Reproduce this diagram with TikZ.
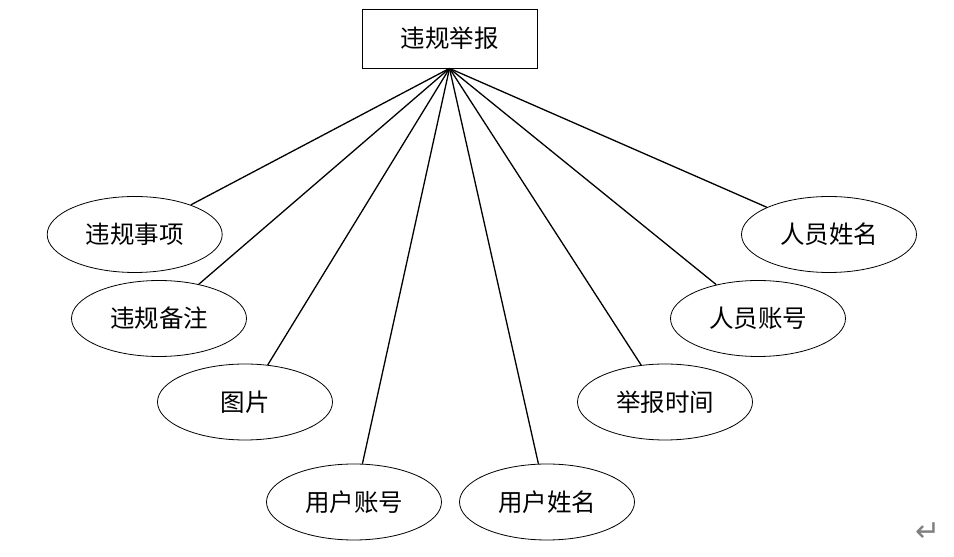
\documentclass[tikz,border=0pt]{standalone}
\usepackage{fontspec}
\newfontfamily\cjk{Noto Sans CJK SC}
\newfontfamily\symfont{DejaVu Sans}
\usetikzlibrary{shapes.geometric}
\tikzset{entity/.style={rectangle, draw, line width=0.8pt,
   minimum width=175pt, minimum height=59pt, inner sep=0pt,
   font=\cjk\fontsize{24.5}{24.5}\selectfont}}
\tikzset{attr/.style={ellipse, draw, line width=0.8pt,
   minimum width=175pt, minimum height=76pt, inner sep=0pt,
   font=\cjk\fontsize{24.5}{24.5}\selectfont}}
\tikzset{link/.style={line width=1.3pt}}

\begin{document}
\begin{tikzpicture}[x=1pt,y=1pt]
    \useasboundingbox (0,0) rectangle (954,557);

    \node[entity] (report) at (449.5,518.5) {违规举报};

    % attributes, left side
    \node[attr] (item)   at (134.7,322.5) {违规事项};
    \node[attr] (note)   at (159,238.5)   {违规备注};
    \node[attr] (pic)    at (245,155)     {图片};
    \node[attr] (uacc)   at (354,55)      {用户账号};

    % attributes, right side
    \node[attr] (uname)  at (547,55)      {用户姓名};
    \node[attr] (time)   at (665,155)     {举报时间};
    \node[attr] (sacc)   at (758,238.5)   {人员账号};
    \node[attr] (sname)  at (829,322.5)   {人员姓名};

    \foreach \a in {item,note,pic,uacc,uname,time,sacc,sname}
      \draw[link] (report.south) -- (\a);

    \node[text=gray, font=\symfont\fontsize{30}{30}\selectfont] (ret) at (928,25) {↵};

  \end{tikzpicture}
\end{document}
